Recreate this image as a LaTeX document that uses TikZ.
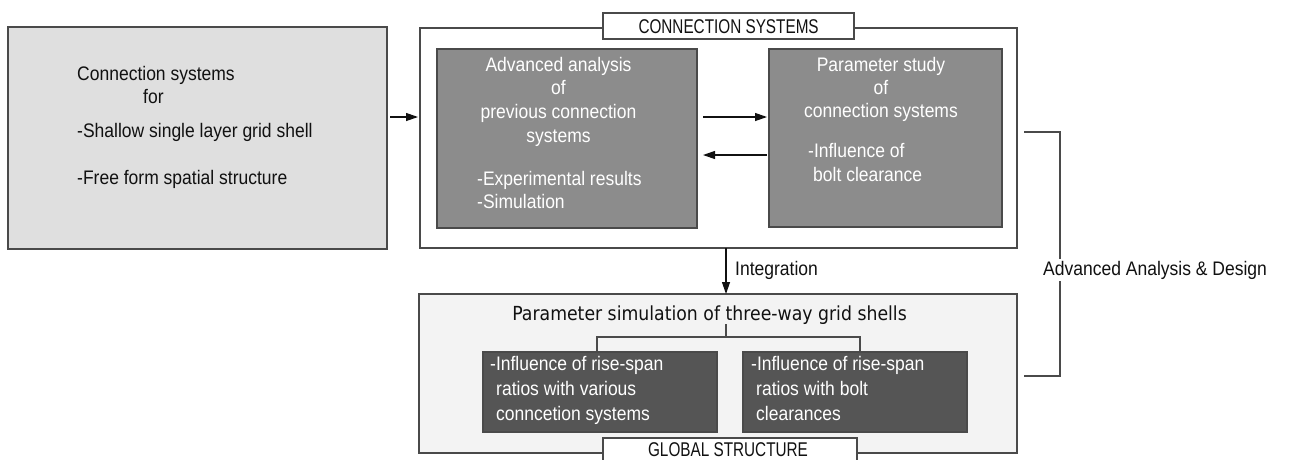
\documentclass[tikz,border=0pt]{standalone}
\usepackage{fontspec}
\setmainfont{Liberation Sans}
\newfontfamily\dejavu{DejaVu Sans}
\usetikzlibrary{arrows.meta}
\definecolor{edge}{HTML}{4A4A4A}
\definecolor{panel}{HTML}{DFDFDF}
\definecolor{midgray}{HTML}{8C8C8C}
\definecolor{deepgray}{HTML}{555555}
\definecolor{pale}{HTML}{F3F3F3}
\definecolor{ink}{HTML}{111111}
% the lettering is set slightly tall and narrow
\newcommand\vstr[1]{\scalebox{1}[1.12]{#1}}
\newcommand\capstr[1]{\scalebox{1}[1.3]{#1}}
\tikzset{
  box/.style={draw=edge, line width=1.3pt, inner sep=0pt, outer sep=0pt},
  txt/.style={inner sep=0pt, text=ink, font=\fontsize{17.5}{20}\selectfont},
  wtxt/.style={txt, text=white},
  captxt/.style={txt, font=\fontsize{15.3}{18}\selectfont},
  arr/.style={draw=ink, line width=1.2pt, -{Triangle[length=12pt,width=8pt]}},
  link/.style={draw=edge, line width=1.2pt},
}
\begin{document}
\begin{tikzpicture}[x=1pt, y=-1pt]
\useasboundingbox (0,0) rectangle (1298,459);
\clip (0,0) rectangle (1298,459);

% input panel
\node[box, fill=panel, minimum width=379pt, minimum height=222pt] (L) at (197.5,138) {};
\node[txt, anchor=base west] (l1) at (77,80) {\vstr{Connection systems}};
\node[txt, anchor=base west] (l2) at (143,103) {\vstr{for}};
\node[txt, anchor=base west] (l3) at (77,137) {\vstr{-Shallow single layer grid shell}};
\node[txt, anchor=base west] (l4) at (77,184) {\vstr{-Free form spatial structure}};

% connection systems frame
\node[box, fill=white, minimum width=597pt, minimum height=220pt] (CS) at (718.5,138) {};
\node[box, fill=white, minimum width=251pt, minimum height=26pt] (CST) at (728.5,26) {};
\node[captxt, anchor=base] (cst) at (728.6,33.5) {\capstr{CONNECTION SYSTEMS}};

\node[box, fill=midgray, minimum width=260pt, minimum height=179pt] (A) at (567,138.5) {};
\node[wtxt, anchor=base] (a1) at (558.5,71) {\vstr{Advanced analysis}};
\node[wtxt, anchor=base] (a2) at (558.5,94) {\vstr{of}};
\node[wtxt, anchor=base] (a3) at (558.5,118) {\vstr{previous connection}};
\node[wtxt, anchor=base] (a4) at (558.5,142) {\vstr{systems}};
\node[wtxt, anchor=base west] (a5) at (477,185) {\vstr{-Experimental results}};
\node[wtxt, anchor=base west] (a6) at (477,208) {\vstr{-Simulation}};

\node[box, fill=midgray, minimum width=233pt, minimum height=178pt] (B) at (885.5,138) {};
\node[wtxt, anchor=base] (b1) at (881,71) {\vstr{Parameter study}};
\node[wtxt, anchor=base] (b2) at (881,94) {\vstr{of}};
\node[wtxt, anchor=base] (b3) at (881,117) {\vstr{connection systems}};
\node[wtxt, anchor=base west] (b4) at (808,157) {\vstr{-Influence of}};
\node[wtxt, anchor=base west] (b5) at (813,181) {\vstr{bolt clearance}};

% global structure frame
\node[box, fill=pale, minimum width=598pt, minimum height=159pt] (G) at (718,373.5) {};
\node[txt, anchor=base, font=\dejavu\fontsize{17.3}{20}\selectfont] (ps) at (709.5,320)
  {\vstr{Parameter simulation of three-way grid shells}};

\node[box, fill=deepgray, minimum width=234pt, minimum height=80pt] (C) at (600,392) {};
\node[wtxt, anchor=base west] (c1) at (490,370) {\vstr{-Influence of rise-span}};
\node[wtxt, anchor=base west] (c2) at (496,395) {\vstr{ratios with various}};
\node[wtxt, anchor=base west] (c3) at (496,420) {\vstr{conncetion systems}};

\node[box, fill=deepgray, minimum width=224pt, minimum height=80pt] (D) at (855,392) {};
\node[wtxt, anchor=base west] (d1) at (751,370) {\vstr{-Influence of rise-span}};
\node[wtxt, anchor=base west] (d2) at (756,395) {\vstr{ratios with bolt}};
\node[wtxt, anchor=base west] (d3) at (756,420) {\vstr{clearances}};

\node[box, fill=white, minimum width=254pt, minimum height=30pt] (GT) at (730,453) {};
\node[captxt, anchor=base] (gt) at (728,456) {\capstr{GLOBAL STRUCTURE}};

% branching from the simulation title to its two studies
\coordinate (tj) at (726,337);
\draw[link] (ps.south -| tj) -- (tj);
\draw[link] ([xshift=-3pt]C.north) |- (tj) -| ([xshift=5pt]D.north);

% arrows
\draw[arr, shorten <=3pt, shorten >=2pt] ([yshift=21pt]L.east) -- ([yshift=21pt]CS.west);
\draw[arr, shorten <=6pt, shorten >=2pt] ([yshift=21.5pt]A.east) -- ([yshift=21pt]B.west);
\draw[arr, shorten <=2pt, shorten >=6pt] ([yshift=-17pt]B.west) -- ([yshift=-16.5pt]A.east);

\coordinate (ix) at (726,0);
\draw[arr] (CS.south -| ix) -- (G.north -| ix);
\node[txt, anchor=base west] (integ) at (735,275) {\vstr{Integration}};

% bracket spanning both frames
\node[txt, anchor=base west, inner sep=2pt] (aad) at (1041,275) {\vstr{Advanced Analysis \& Design}};
\coordinate (bx) at (1060,0);
\draw[link] ([xshift=7pt,yshift=6pt]CS.east) -| (bx |- aad.north);
\draw[link] ([xshift=7pt,yshift=-2.5pt]G.east) -| (bx |- aad.south);
\end{tikzpicture}
\end{document}
